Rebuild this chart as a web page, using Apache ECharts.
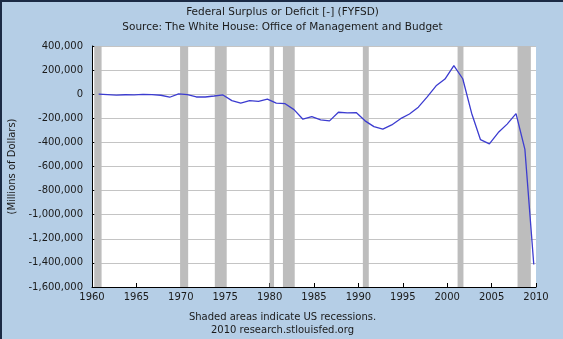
<!DOCTYPE html>
<html>
<head>
<meta charset="utf-8">
<script src="https://cdn.jsdelivr.net/npm/echarts@6/dist/echarts.min.js"></script>
<style>
html,body{margin:0;padding:0;background:#b5cee6;}
#chart{width:561px;height:337px;border-top:2px solid #1b2a44;border-left:2px solid #1b2a44;}
</style>
</head>
<body>
<div id="chart"></div>
<script>
// Fiscal years and federal surplus/deficit (millions of dollars)
var years = [1960,1961,1962,1963,1964,1965,1966,1967,1968,1969,1970,1971,1972,1973,1974,1975,1976,1977,1978,1979,1980,1981,1982,1983,1984,1985,1986,1987,1988,1989,1990,1991,1992,1993,1994,1995,1996,1997,1998,1999,2000,2001,2002,2003,2004,2005,2006,2007,2008,2009];
var surplus = [301,-3335,-7146,-4756,-5915,-1411,-3698,-8643,-25161,3242,-2842,-23033,-23373,-14908,-6135,-53242,-73732,-53659,-59185,-40726,-73830,-78968,-127977,-207802,-185367,-212308,-221227,-149730,-155178,-152639,-221036,-269238,-290321,-255051,-203186,-163952,-107431,-21884,69270,125610,236241,128236,-157758,-377585,-412727,-318346,-248181,-160701,-458553,-1412686];
// Recession periods (decimal years)
var recessionStart = [1960.25,1969.92,1973.83,1980.0,1981.5,1990.5,2001.17,2007.92];
var recessionEnd   = [1961.08,1970.83,1975.17,1980.5,1982.83,1991.17,2001.83,2009.42];
var yTicks = {min:-1600000, max:400000, interval:200000};
var xTicks = {min:1960, max:2010, interval:5};
var fiscalYearEndOffset = 0.75; // fiscal year ends Sept 30

var lineData = years.map(function(y,i){return [y+fiscalYearEndOffset, surplus[i]];});
var bands = recessionStart.map(function(s,i){return [{xAxis:s},{xAxis:recessionEnd[i]}];});

var font = 'DejaVu Sans';
var chart = echarts.init(document.getElementById('chart'));
chart.setOption({
  backgroundColor:'#b5cee6',
  animation:false,
  title:{
    text:'Federal Surplus or Deficit [-] (FYFSD)',
    subtext:'Source: The White House: Office of Management and Budget',
    left:'center', top:0, itemGap:4,
    textStyle:{fontFamily:font,fontSize:10.5,fontWeight:'normal',color:'#1a1a1a'},
    subtextStyle:{fontFamily:font,fontSize:10.5,color:'#1a1a1a'}
  },
  graphic:[
    {type:'text',left:'center',top:309,style:{text:'Shaded areas indicate US recessions.\n2010 research.stlouisfed.org',fontFamily:font,fontSize:10,fill:'#1a1a1a',textAlign:'center',lineHeight:13}}
  ],
  grid:{left:90,right:27,top:44,bottom:52,backgroundColor:'#ffffff',show:true,borderWidth:0,outerBoundsMode:'none',containLabel:false},
  xAxis:{
    type:'value',min:xTicks.min,max:xTicks.max,interval:xTicks.interval,
    axisLine:{onZero:false,lineStyle:{color:'#000',width:1}},
    axisTick:{inside:true,length:4,lineStyle:{color:'#000'}},
    splitLine:{show:false},
    axisLabel:{formatter:function(v){return String(v);},fontFamily:font,fontSize:10,color:'#1a1a1a',margin:5}
  },
  yAxis:{
    type:'value',min:yTicks.min,max:yTicks.max,interval:yTicks.interval,
    name:'(Millions of Dollars)',nameLocation:'middle',nameGap:74,
    nameTextStyle:{fontFamily:font,fontSize:10,color:'#1a1a1a'},
    axisLine:{show:true,onZero:false,lineStyle:{color:'#000',width:1}},
    axisTick:{show:true,inside:true,length:4,lineStyle:{color:'#000'}},
    splitLine:{lineStyle:{color:'#c4c4c4',width:1}},
    axisLabel:{fontFamily:font,fontSize:10,color:'#1a1a1a',margin:9}
  },
  series:[{
    type:'line',data:lineData,showSymbol:false,
    lineStyle:{color:'#3c3cd0',width:1.3},
    markArea:{silent:true,itemStyle:{color:'#bdbdbd'},data:bands}
  }]
});
</script>
</body>
</html>
